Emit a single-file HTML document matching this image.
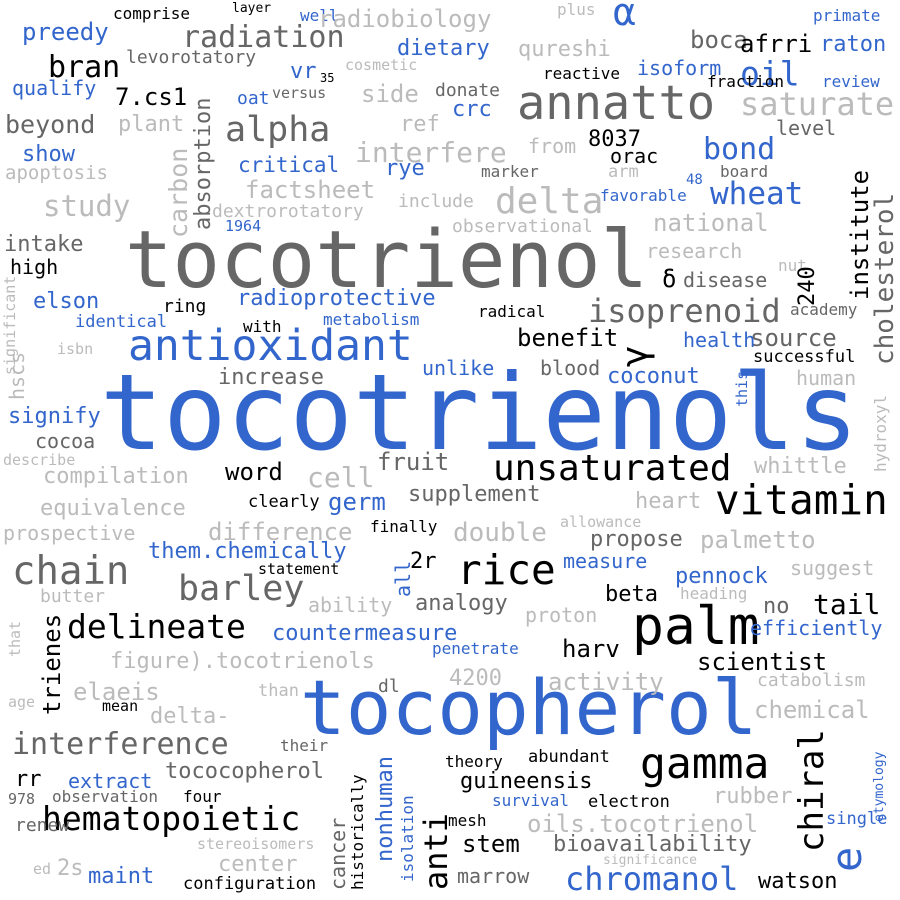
<!DOCTYPE html>
<html><head><meta charset="utf-8"><style>
html,body{margin:0;padding:0;background:#fff;width:900px;height:900px;overflow:hidden;position:relative;font-family:"DejaVu Sans Mono","Liberation Mono",monospace}
div{position:absolute;white-space:nowrap;line-height:1;left:calc(var(--x)*1px);top:calc(var(--b)*1px - var(--s)*0.85px);font-size:calc(var(--s)*1px)}
.v{top:calc(var(--b)*1px);transform:rotate(-90deg);transform-origin:0 0}
.B{color:#3366cc}.G{color:#666}.L{color:#bbb}.K{color:#000}
</style></head><body>
<div class="B" style="--x:100;--b:450;--s:105">tocotrienols</div>
<div class="G" style="--x:125;--b:288;--s:79">tocotrienol</div>
<div class="B" style="--x:300;--b:735;--s:76">tocopherol</div>
<div class="B" style="--x:128;--b:362;--s:43">antioxidant</div>
<div class="G" style="--x:517;--b:120;--s:47">annatto</div>
<div class="K" style="--x:715;--b:515;--s:41">vitamin</div>
<div class="K" style="--x:632;--b:645;--s:53">palm</div>
<div class="K" style="--x:457;--b:585;--s:41">rice</div>
<div class="G" style="--x:12;--b:585;--s:39">chain</div>
<div class="K" style="--x:640;--b:780;--s:43">gamma</div>
<div class="K" style="--x:493;--b:482;--s:36">unsaturated</div>
<div class="K" style="--x:42;--b:830;--s:33">hematopoietic</div>
<div class="K" style="--x:67;--b:638;--s:33">delineate</div>
<div class="G" style="--x:178;--b:602;--s:35">barley</div>
<div class="G" style="--x:182;--b:48;--s:30">radiation</div>
<div class="G" style="--x:225;--b:143;--s:35">alpha</div>
<div class="L" style="--x:495;--b:215;--s:36">delta</div>
<div class="B" style="--x:565;--b:890;--s:32">chromanol</div>
<div class="G" style="--x:12;--b:755;--s:30">interference</div>
<div class="G" style="--x:588;--b:322;--s:32">isoprenoid</div>
<div class="B" style="--x:740;--b:85;--s:33">oil</div>
<div class="L" style="--x:740;--b:115;--s:32">saturate</div>
<div class="B" style="--x:710;--b:205;--s:31">wheat</div>
<div class="B" style="--x:703;--b:160;--s:30">bond</div>
<div class="K" style="--x:813;--b:615;--s:28">tail</div>
<div class="G" style="--x:763;--b:615;--s:22">no</div>
<div class="B" style="--x:613;--b:25;--s:38">α</div>

<div class="K" style="--x:113;--b:20;--s:16">comprise</div>
<div class="K" style="--x:232;--b:13;--s:13">layer</div>
<div class="B" style="--x:300;--b:22;--s:16">well</div>
<div class="L" style="--x:318;--b:27;--s:24">radiobiology</div>
<div class="L" style="--x:557;--b:16;--s:16">plus</div>
<div class="B" style="--x:813;--b:22;--s:16">primate</div>
<div class="B" style="--x:22;--b:40;--s:24">preedy</div>
<div class="G" style="--x:690;--b:48;--s:24">boca</div>
<div class="K" style="--x:740;--b:52;--s:24">afrri</div>
<div class="B" style="--x:820;--b:53;--s:22">raton</div>
<div class="B" style="--x:397;--b:57;--s:22">dietary</div>
<div class="L" style="--x:518;--b:58;--s:22">qureshi</div>
<div class="L" style="--x:345;--b:71;--s:15">cosmetic</div>
<div class="K" style="--x:543;--b:80;--s:16">reactive</div>
<div class="B" style="--x:637;--b:75;--s:20">isoform</div>
<div class="K" style="--x:48;--b:78;--s:30">bran</div>
<div class="G" style="--x:126;--b:64;--s:18">levorotatory</div>
<div class="B" style="--x:290;--b:80;--s:22">vr</div>
<div class="K" style="--x:320;--b:82;--s:12">35</div>
<div class="K" style="--x:707;--b:88;--s:16">fraction</div>
<div class="B" style="--x:822;--b:88;--s:16">review</div>
<div class="B" style="--x:12;--b:95;--s:20">qualify</div>
<div class="K" style="--x:115;--b:105;--s:24">7.cs1</div>
<div class="B" style="--x:237;--b:105;--s:18">oat</div>
<div class="G" style="--x:272;--b:99;--s:15">versus</div>
<div class="L" style="--x:361;--b:102;--s:24">side</div>
<div class="G" style="--x:435;--b:97;--s:18">donate</div>
<div class="B" style="--x:452;--b:118;--s:22">crc</div>
<div class="G" style="--x:5;--b:133;--s:25">beyond</div>
<div class="L" style="--x:118;--b:133;--s:22">plant</div>
<div class="L" style="--x:400;--b:133;--s:22">ref</div>
<div class="K" style="--x:588;--b:148;--s:22">8037</div>
<div class="G" style="--x:776;--b:135;--s:20">level</div>
<div class="L" style="--x:355;--b:163;--s:28">interfere</div>
<div class="L" style="--x:528;--b:153;--s:20">from</div>
<div class="K" style="--x:610;--b:163;--s:20">orac</div>
<div class="B" style="--x:22;--b:163;--s:22">show</div>
<div class="B" style="--x:238;--b:173;--s:21">critical</div>
<div class="B" style="--x:385;--b:177;--s:22">rye</div>
<div class="G" style="--x:481;--b:178;--s:16">marker</div>
<div class="L" style="--x:608;--b:178;--s:17">arm</div>
<div class="B" style="--x:686;--b:185;--s:14">48</div>
<div class="G" style="--x:720;--b:178;--s:16">board</div>
<div class="L" style="--x:5;--b:180;--s:19">apoptosis</div>
<div class="B" style="--x:600;--b:202;--s:16">favorable</div>
<div class="L" style="--x:398;--b:208;--s:18">include</div>
<div class="L" style="--x:245;--b:198;--s:24">factsheet</div>
<div class="L" style="--x:43;--b:217;--s:29">study</div>
<div class="L" style="--x:212;--b:218;--s:18">dextrorotatory</div>
<div class="L" style="--x:452;--b:233;--s:18">observational</div>
<div class="L" style="--x:653;--b:231;--s:24">national</div>
<div class="B" style="--x:225;--b:232;--s:15">1964</div>
<div class="L" style="--x:646;--b:258;--s:20">research</div>
<div class="L" style="--x:778;--b:272;--s:16">nut</div>
<div class="G" style="--x:4;--b:253;--s:22">intake</div>
<div class="K" style="--x:10;--b:274;--s:20">high</div>
<div class="K" style="--x:662;--b:287;--s:24">δ</div>
<div class="G" style="--x:683;--b:287;--s:20">disease</div>
<div class="B" style="--x:33;--b:310;--s:22">elson</div>
<div class="K" style="--x:163;--b:313;--s:18">ring</div>
<div class="B" style="--x:237;--b:307;--s:22">radioprotective</div>
<div class="K" style="--x:478;--b:318;--s:16">radical</div>
<div class="G" style="--x:790;--b:316;--s:16">academy</div>
<div class="B" style="--x:75;--b:328;--s:17">identical</div>
<div class="K" style="--x:243;--b:333;--s:16">with</div>
<div class="B" style="--x:323;--b:326;--s:16">metabolism</div>
<div class="K" style="--x:517;--b:346;--s:24">benefit</div>
<div class="G" style="--x:750;--b:346;--s:24">source</div>
<div class="B" style="--x:683;--b:347;--s:20">health</div>
<div class="K" style="--x:753;--b:363;--s:17">successful</div>
<div class="L" style="--x:57;--b:355;--s:15">isbn</div>
<div class="G" style="--x:218;--b:386;--s:22">increase</div>
<div class="B" style="--x:422;--b:375;--s:20">unlike</div>
<div class="G" style="--x:540;--b:375;--s:20">blood</div>
<div class="B" style="--x:607;--b:385;--s:22">coconut</div>
<div class="L" style="--x:796;--b:385;--s:20">human</div>
<div class="B" style="--x:8;--b:425;--s:22">signify</div>
<div class="G" style="--x:35;--b:448;--s:20">cocoa</div>
<div class="L" style="--x:3;--b:466;--s:15">describe</div>
<div class="L" style="--x:43;--b:485;--s:22">compilation</div>
<div class="K" style="--x:225;--b:480;--s:24">word</div>
<div class="L" style="--x:307;--b:488;--s:28">cell</div>
<div class="G" style="--x:377;--b:470;--s:24">fruit</div>
<div class="L" style="--x:754;--b:475;--s:22">whittle</div>
<div class="B" style="--x:328;--b:510;--s:24">germ</div>
<div class="G" style="--x:408;--b:503;--s:22">supplement</div>
<div class="L" style="--x:635;--b:510;--s:22">heart</div>
<div class="L" style="--x:40;--b:517;--s:22">equivalence</div>
<div class="K" style="--x:248;--b:508;--s:17">clearly</div>
<div class="L" style="--x:3;--b:540;--s:20">prospective</div>
<div class="L" style="--x:208;--b:540;--s:24">difference</div>
<div class="K" style="--x:370;--b:533;--s:16">finally</div>
<div class="L" style="--x:453;--b:542;--s:26">double</div>
<div class="L" style="--x:560;--b:528;--s:15">allowance</div>
<div class="G" style="--x:590;--b:548;--s:22">propose</div>
<div class="L" style="--x:700;--b:548;--s:24">palmetto</div>
<div class="B" style="--x:148;--b:560;--s:22">them.chemically</div>
<div class="K" style="--x:410;--b:570;--s:22">2r</div>
<div class="K" style="--x:258;--b:575;--s:15">statement</div>
<div class="B" style="--x:563;--b:568;--s:20">measure</div>
<div class="L" style="--x:790;--b:575;--s:20">suggest</div>
<div class="B" style="--x:675;--b:585;--s:22">pennock</div>
<div class="L" style="--x:40;--b:603;--s:18">butter</div>
<div class="L" style="--x:308;--b:612;--s:20">ability</div>
<div class="G" style="--x:415;--b:612;--s:22">analogy</div>
<div class="L" style="--x:525;--b:622;--s:20">proton</div>
<div class="K" style="--x:605;--b:603;--s:22">beta</div>
<div class="L" style="--x:680;--b:600;--s:16">heading</div>
<div class="B" style="--x:272;--b:642;--s:22">countermeasure</div>
<div class="B" style="--x:750;--b:635;--s:20">efficiently</div>
<div class="K" style="--x:562;--b:657;--s:24">harv</div>
<div class="B" style="--x:432;--b:655;--s:16">penetrate</div>
<div class="L" style="--x:110;--b:670;--s:22">figure).tocotrienols</div>
<div class="K" style="--x:697;--b:670;--s:24">scientist</div>
<div class="L" style="--x:449;--b:687;--s:22">4200</div>
<div class="L" style="--x:548;--b:690;--s:24">activity</div>
<div class="L" style="--x:757;--b:687;--s:18">catabolism</div>
<div class="L" style="--x:73;--b:700;--s:24">elaeis</div>
<div class="G" style="--x:378;--b:693;--s:18">dl</div>
<div class="L" style="--x:258;--b:697;--s:17">than</div>
<div class="L" style="--x:8;--b:708;--s:15">age</div>
<div class="K" style="--x:102;--b:712;--s:15">mean</div>
<div class="L" style="--x:150;--b:725;--s:22">delta-</div>
<div class="L" style="--x:754;--b:718;--s:24">chemical</div>
<div class="G" style="--x:165;--b:780;--s:22">tococopherol</div>
<div class="G" style="--x:280;--b:752;--s:16">their</div>
<div class="K" style="--x:445;--b:768;--s:16">theory</div>
<div class="K" style="--x:528;--b:763;--s:17">abundant</div>
<div class="K" style="--x:15;--b:788;--s:22">rr</div>
<div class="B" style="--x:68;--b:788;--s:20">extract</div>
<div class="K" style="--x:460;--b:790;--s:22">guineensis</div>
<div class="G" style="--x:8;--b:805;--s:15">978</div>
<div class="G" style="--x:52;--b:803;--s:16">observation</div>
<div class="K" style="--x:183;--b:803;--s:16">four</div>
<div class="B" style="--x:492;--b:807;--s:16">survival</div>
<div class="K" style="--x:588;--b:808;--s:17">electron</div>
<div class="L" style="--x:713;--b:805;--s:22">rubber</div>
<div class="B" style="--x:826;--b:825;--s:17">single</div>
<div class="G" style="--x:15;--b:832;--s:18">renew</div>
<div class="K" style="--x:448;--b:827;--s:16">mesh</div>
<div class="L" style="--x:527;--b:832;--s:24">oils.tocotrienol</div>
<div class="L" style="--x:197;--b:850;--s:15">stereoisomers</div>
<div class="K" style="--x:462;--b:852;--s:24">stem</div>
<div class="G" style="--x:553;--b:853;--s:22">bioavailability</div>
<div class="L" style="--x:218;--b:873;--s:22">center</div>
<div class="L" style="--x:33;--b:875;--s:15">ed</div>
<div class="L" style="--x:57;--b:877;--s:22">2s</div>
<div class="B" style="--x:88;--b:885;--s:22">maint</div>
<div class="L" style="--x:603;--b:865;--s:13">significance</div>
<div class="K" style="--x:183;--b:890;--s:17">configuration</div>
<div class="G" style="--x:457;--b:883;--s:20">marrow</div>
<div class="K" style="--x:758;--b:890;--s:22">watson</div>

<div class="v G" style="--x:872;--b:365;--s:26">cholesterol</div>
<div class="v K" style="--x:848;--b:300;--s:24">institute</div>
<div class="v K" style="--x:797;--b:306;--s:22">240</div>
<div class="v K" style="--x:618;--b:367;--s:36">γ</div>
<div class="v B" style="--x:826;--b:872;--s:42">e</div>
<div class="v K" style="--x:795;--b:852;--s:34">chiral</div>
<div class="v K" style="--x:420;--b:890;--s:32">anti</div>
<div class="v B" style="--x:393;--b:597;--s:20">all</div>
<div class="v K" style="--x:40;--b:715;--s:24">trienes</div>
<div class="v L" style="--x:166;--b:238;--s:25">carbon</div>
<div class="v G" style="--x:193;--b:230;--s:22">absorption</div>
<div class="v G" style="--x:328;--b:890;--s:20">cancer</div>
<div class="v K" style="--x:350;--b:890;--s:16">historically</div>
<div class="v B" style="--x:375;--b:862;--s:22">nonhuman</div>
<div class="v B" style="--x:400;--b:882;--s:16">isolation</div>
<div class="v L" style="--x:7;--b:400;--s:20">hscs</div>
<div class="v L" style="--x:3;--b:375;--s:15">significant</div>
<div class="v L" style="--x:8;--b:657;--s:15">that</div>
<div class="v B" style="--x:735;--b:407;--s:15">this</div>
<div class="v L" style="--x:873;--b:472;--s:16">hydroxyl</div>
<div class="v B" style="--x:873;--b:822;--s:13">etymology</div>
</body></html>
